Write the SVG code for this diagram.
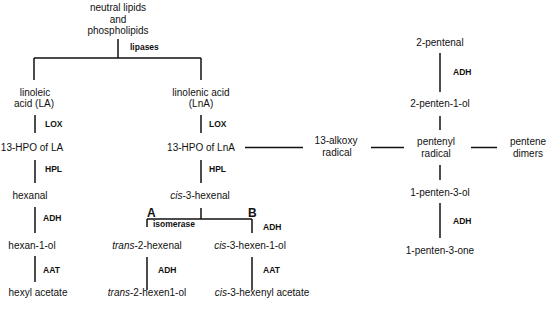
<svg xmlns="http://www.w3.org/2000/svg" width="550" height="310" viewBox="0 0 550 310">
<style>
text{font-family:"Liberation Sans",Arial,sans-serif;font-size:10px;fill:#111;}
.c{text-anchor:middle;}
.e{font-weight:bold;font-size:8.5px;}
.ab{font-weight:bold;font-size:12px;}
.conn line{stroke:#111;stroke-width:1.5;}
</style>
<rect width="550" height="310" fill="#fff"/>
<g id="connectors" class="conn">
<line x1="118" y1="39" x2="118" y2="58"/>
<line x1="34" y1="58" x2="201" y2="58"/>
<line x1="34" y1="58" x2="34" y2="80"/>
<line x1="201" y1="58" x2="201" y2="80"/>
<line x1="35" y1="115" x2="35" y2="133"/>
<line x1="201" y1="115" x2="201" y2="133"/>
<line x1="35" y1="160" x2="35" y2="183"/>
<line x1="201" y1="160" x2="201" y2="183"/>
<line x1="35" y1="207" x2="35" y2="233"/>
<line x1="35" y1="256" x2="35" y2="282"/>
<line x1="201" y1="208" x2="201" y2="219"/>
<line x1="147" y1="219" x2="252" y2="219"/>
<line x1="147" y1="219" x2="147" y2="227"/>
<line x1="252" y1="219" x2="252" y2="233"/>
<line x1="147" y1="257" x2="147" y2="290"/>
<line x1="252" y1="257" x2="252" y2="290"/>
<line x1="245" y1="147.5" x2="303" y2="147.5"/>
<line x1="371" y1="147.5" x2="404" y2="147.5"/>
<line x1="471" y1="147.5" x2="497" y2="147.5"/>
<line x1="440" y1="53" x2="440" y2="92"/>
<line x1="440" y1="116" x2="440" y2="130"/>
<line x1="440" y1="165" x2="440" y2="180"/>
<line x1="440" y1="203" x2="440" y2="238"/>
</g>
<g id="lipids"><text class="c" x="118" y="11">neutral lipids</text><text class="c" x="118" y="22.5">and</text><text class="c" x="118" y="34">phospholipids</text></g>
<g id="lipases"><text class="e" x="130" y="50">lipases</text></g>
<g id="LA"><text class="c" x="35" y="95.5">linoleic</text><text class="c" x="34" y="107">acid (LA)</text></g>
<g id="LnA"><text class="c" x="201" y="95.5">linolenic acid</text><text class="c" x="201" y="107">(LnA)</text></g>
<g id="lox1"><text class="e" x="45" y="127">LOX</text></g>
<g id="lox2"><text class="e" x="209" y="127">LOX</text></g>
<g id="hpoLA"><text class="c" x="32" y="151">13-HPO of LA</text></g>
<g id="hpoLnA"><text class="c" x="201" y="151">13-HPO of LnA</text></g>
<g id="hpl1"><text class="e" x="45" y="172">HPL</text></g>
<g id="hpl2"><text class="e" x="209" y="172">HPL</text></g>
<g id="hexanal"><text class="c" x="30" y="198.5">hexanal</text></g>
<g id="cishexenal"><text class="c" x="200" y="198.5"><tspan font-style="italic">cis</tspan>-3-hexenal</text></g>
<g id="adh1"><text class="e" x="43" y="221">ADH</text></g>
<g id="hexanol"><text class="c" x="32" y="248.5">hexan-1-ol</text></g>
<g id="aat1"><text class="e" x="43" y="273">AAT</text></g>
<g id="hexylacetate"><text class="c" x="38" y="295.5">hexyl acetate</text></g>
<g id="A"><text class="ab" x="147" y="217">A</text></g>
<g id="B"><text class="ab" x="248" y="217">B</text></g>
<g id="isomerase"><text class="e" x="153" y="227">isomerase</text></g>
<g id="adh2"><text class="e" x="263" y="230">ADH</text></g>
<g id="transhexenal"><text class="c" x="147" y="248.5"><tspan font-style="italic">trans</tspan>-2-hexenal</text></g>
<g id="cishexenol"><text class="c" x="250" y="248.5"><tspan font-style="italic">cis</tspan>-3-hexen-1-ol</text></g>
<g id="adh3"><text class="e" x="158" y="273">ADH</text></g>
<g id="aat2"><text class="e" x="263" y="273">AAT</text></g>
<g id="transhexenol"><text class="c" x="147" y="295.5"><tspan font-style="italic">trans</tspan>-2-hexen1-ol</text></g>
<g id="cishexenylacetate"><text class="c" x="262" y="295.5"><tspan font-style="italic">cis</tspan>-3-hexenyl acetate</text></g>
<g id="alkoxy"><text class="c" x="336" y="144">13-alkoxy</text><text class="c" x="337" y="155.5">radical</text></g>
<g id="pentenyl"><text class="c" x="436" y="145">pentenyl</text><text class="c" x="436" y="156.5">radical</text></g>
<g id="dimers"><text class="c" x="528" y="145">pentene</text><text class="c" x="528" y="157">dimers</text></g>
<g id="pentenal"><text class="c" x="440" y="45.5">2-pentenal</text></g>
<g id="adh4"><text class="e" x="453" y="75">ADH</text></g>
<g id="pentenol"><text class="c" x="440" y="106.5">2-penten-1-ol</text></g>
<g id="penten3ol"><text class="c" x="440" y="195.5">1-penten-3-ol</text></g>
<g id="adh5"><text class="e" x="453" y="224">ADH</text></g>
<g id="penten3one"><text class="c" x="440" y="253.5">1-penten-3-one</text></g>
</svg>
